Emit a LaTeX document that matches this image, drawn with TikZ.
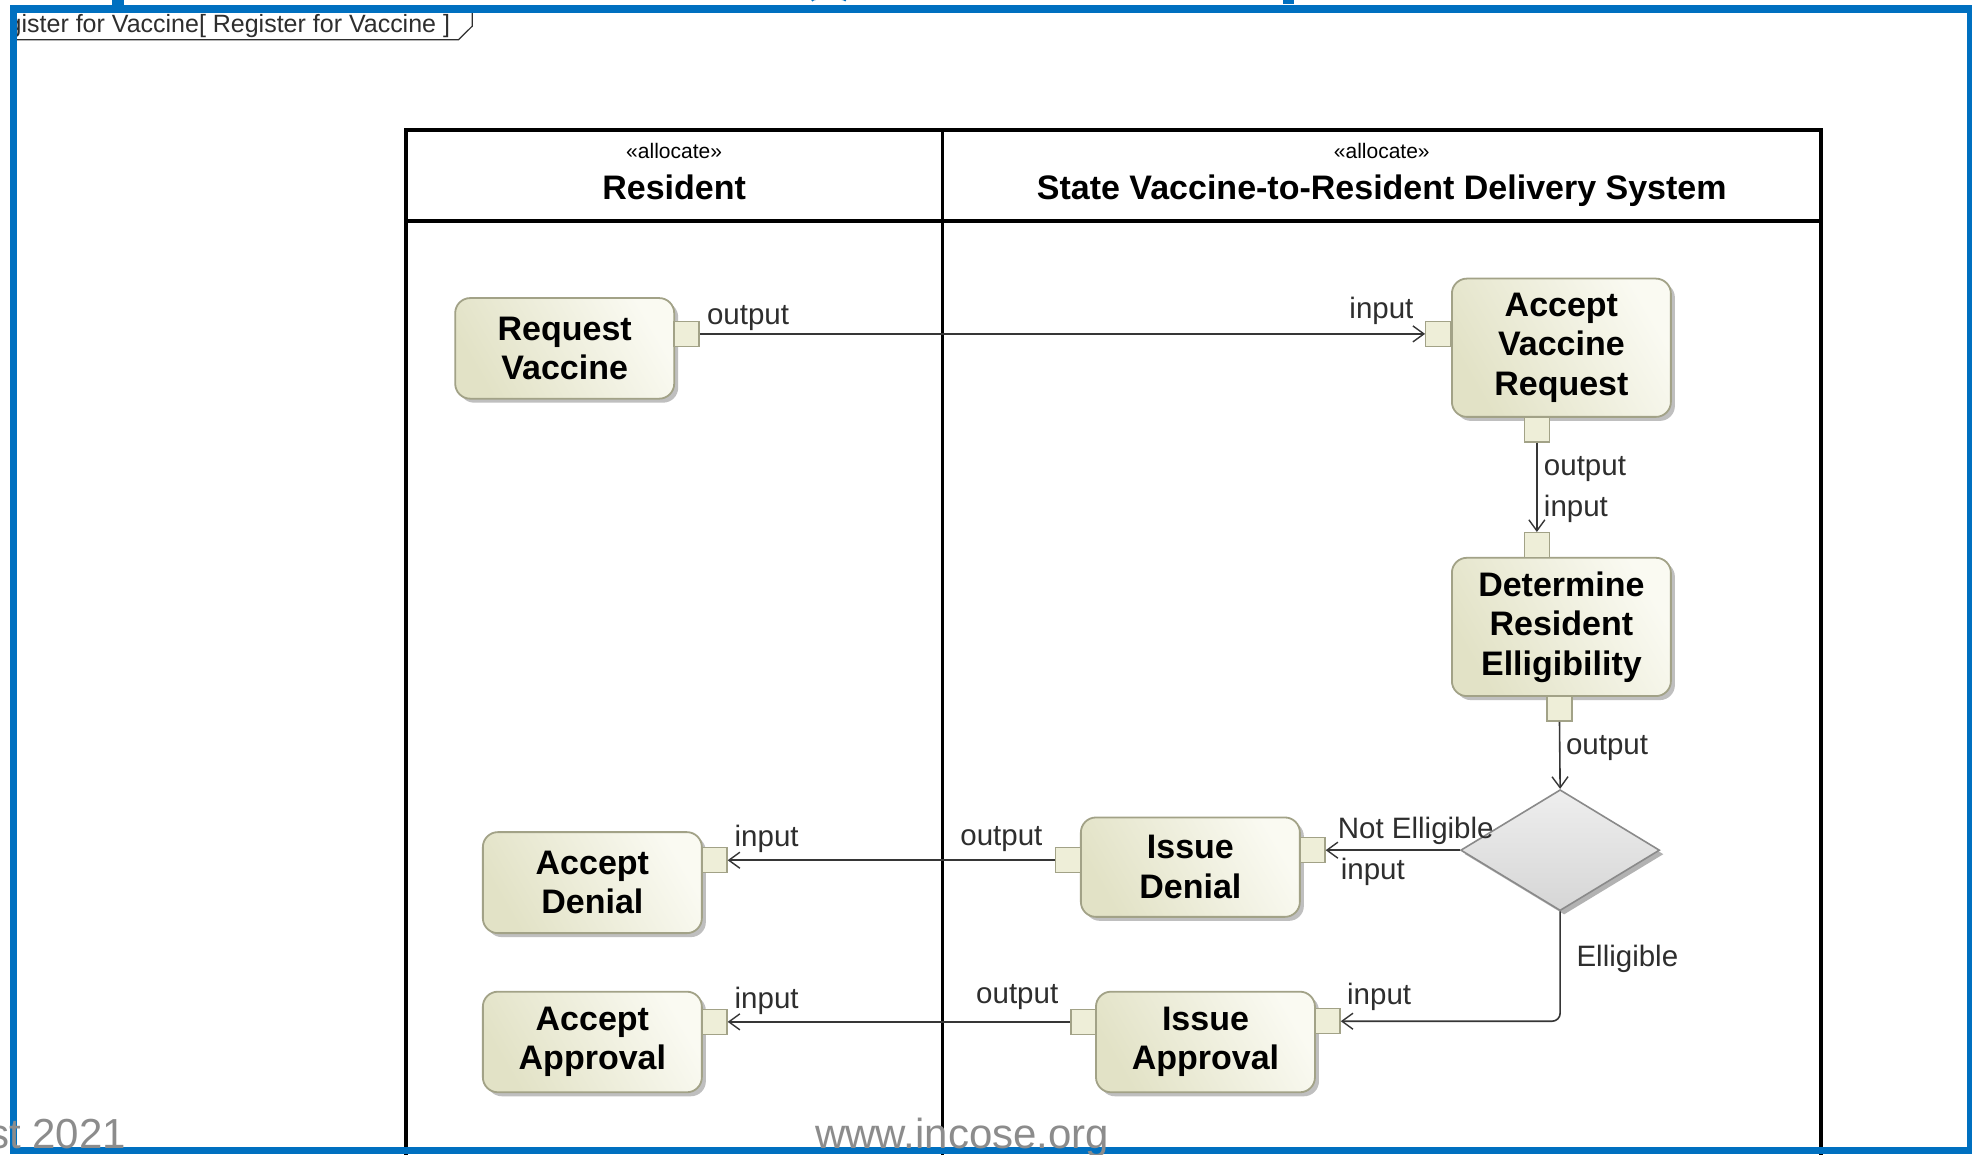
\documentclass[tikz,border=0pt]{standalone}
\usepackage{fontspec}
\setmainfont{Liberation Sans}
\usetikzlibrary{arrows.meta,shapes.geometric,shadows}

\definecolor{incoseblue}{HTML}{0070C0}
\definecolor{actline}{HTML}{A2A287}
\definecolor{actlight}{HTML}{FAFAF2}
\definecolor{actdark}{HTML}{E2E2C6}
\definecolor{pinfill}{HTML}{EEEED8}
\definecolor{flowline}{HTML}{363636}
\definecolor{decline}{HTML}{8A8A8A}
\definecolor{declight}{HTML}{EEEEEE}
\definecolor{decdark}{HTML}{D6D6D6}
\definecolor{footgray}{HTML}{8C8C8C}
\definecolor{lblgray}{HTML}{2E2E2E}

\tikzset{
  action/.style={draw=actline, line width=1.8pt, rounded corners=15pt,
    top color=actdark, bottom color=actlight, shading angle=120,
    drop shadow={shadow xshift=4pt, shadow yshift=-4pt, fill=black!45, opacity=.55},
    minimum width=219pt, align=center, inner sep=0pt, text=black,
    font=\fontsize{34}{39.5}\selectfont\bfseries},
  portbox/.style={draw=actline, line width=1.4pt, fill=pinfill,
    minimum size=25pt, inner sep=0pt},
  decision/.style={diamond, draw=decline, line width=1.6pt,
    top color=declight, bottom color=decdark,
    drop shadow={shadow xshift=4pt, shadow yshift=-4pt, fill=black!50, opacity=.6},
    minimum width=199pt, minimum height=121pt, inner sep=0pt},
  flow/.style={draw=flowline, line width=1.6pt,
    -{Straight Barb[length=11pt,width=16pt,line width=1.4pt]}},
  lbl/.style={inner sep=0pt, text=lblgray, font=\fontsize{29.5}{34}\selectfont},
  lane/.style={draw=black, line width=3.6pt},
  stereo/.style={inner sep=0pt, text=black, font=\fontsize{21}{24}\selectfont},
  lanetitle/.style={inner sep=0pt, text=black, font=\fontsize{34}{40}\selectfont\bfseries},
  foot/.style={inner sep=0pt, text=footgray, font=\fontsize{42}{48}\selectfont},
}

\begin{document}
\begin{tikzpicture}[x=1.2577pt, y=-1.2577pt]
\useasboundingbox (0,0) rectangle (1568,918);
\clip (0,0) rectangle (1568,918);
\fill[white] (0,0) rectangle (1568,918);

% swimlane partitions
\draw[lane] (322.6,930) -- (322.6,103.6) -- (1448,103.6) -- (1448,930);
\draw[lane] (322.6,175.5) -- (1448,175.5);
\draw[lane] (749.5,103.6) -- (749.5,930);

\node[stereo, anchor=base] (st1) at (536,125.9) {«allocate»};
\node[lanetitle, anchor=base] (lt1) at (536,159) {Resident};
\node[stereo, anchor=base] (st2) at (1098.7,125.9) {«allocate»};
\node[lanetitle, anchor=base] (lt2) at (1098.7,159) {State Vaccine-to-Resident Delivery System};

% actions
\node[action, minimum height=100.6pt] (rv) at (449,277) {Request\\Vaccine};
\node[action, minimum height=138.3pt] (avr) at (1241.5,276.5) {Accept\\Vaccine\\Request};
\node[action, minimum height=138.3pt] (dre) at (1241.5,498.5) {Determine\\Resident\\Elligibility};
\node[action, minimum height=101pt] (ad) at (471,701.8) {Accept\\Denial};
\node[action, minimum height=99.4pt] (idn) at (946.5,689.5) {Issue\\Denial};
\node[action, minimum height=100.6pt] (aa) at (471,828.5) {Accept\\Approval};
\node[action, minimum height=100.6pt] (ia) at (958.5,828.5) {Issue\\Approval};

% decision
\node[decision] (dec) at (1240.5,676) {};

% pins
\node[portbox] (rvout) at (546,265.5) {};
\node[portbox] (avrin) at (1143.6,265.5) {};
\node[portbox] (avrout) at (1222,341.5) {};
\node[portbox] (drein) at (1222,433.5) {};
\node[portbox] (dreout) at (1240,563.5) {};
\node[portbox] (idin) at (1043.6,676) {};
\node[portbox] (idout) at (849.4,684) {};
\node[portbox] (adin) at (568.1,684) {};
\node[portbox] (iain) at (1055.6,812) {};
\node[portbox] (iaout) at (861.4,812.5) {};
\node[portbox] (aain) at (568.1,812.5) {};

% object flows
\draw[flow] (rvout.east) -- (avrin.west);
\draw[flow] (avrout.south) -- (drein.north);
\draw[flow] (dreout.south) -- (dec.north);
\draw[flow] (dec.west) -- (idin.east);
\draw[flow, rounded corners=8pt] (dec.south) |- (iain.east);
\draw[flow] (idout.west) -- (adin.east);
\draw[flow] (iaout.west) -- (aain.east);

% pin and guard labels
\node[lbl, anchor=base west] (l1) at (562,257.7) {output};
\node[lbl, anchor=base east] (l2) at (1124,253) {input};
\node[lbl, anchor=base west] (l3) at (1227.5,377.7) {output};
\node[lbl, anchor=base west] (l4) at (1227.5,410.8) {input};
\node[lbl, anchor=base west] (l5) at (1245,600.3) {output};
\node[lbl, anchor=base west] (l6) at (1063.6,666.5) {Not Elligible};
\node[lbl, anchor=base west] (l7) at (1066,699.7) {input};
\node[lbl, anchor=base east] (l8) at (829,671.9) {output};
\node[lbl, anchor=base west] (l9) at (584,673.2) {input};
\node[lbl, anchor=base west] (l10) at (1253.4,768.6) {Elligible};
\node[lbl, anchor=base west] (l11) at (1071,799) {input};
\node[lbl, anchor=base east] (l12) at (841.6,798.3) {output};
\node[lbl, anchor=base west] (l13) at (584,801.7) {input};

% diagram frame tab
\draw[draw=lblgray, line width=1.2pt] (10,31.6) -- (364.5,31.6) -- (375.5,20.8) -- (375.5,8);
\begin{scope}
  \clip (13.5,0) rectangle (380,40);
  \node[inner sep=0pt, anchor=base east, text=lblgray, font=\fontsize{25}{28}\selectfont]
    (tab) at (358,26) {Register for Vaccine[ Register for Vaccine ]};
\end{scope}

% outer slide frame with the tail ends of the heading above it
\draw[incoseblue, line width=7.5pt] (10.73,6.96) rectangle (1566.7,914.8);
\fill[incoseblue] (89,0) rectangle (98.6,4);
\draw[incoseblue, line width=4pt] (645,0) arc[start angle=180, end angle=360, x radius=14, y radius=2.4];
\fill[incoseblue] (1020,0) rectangle (1029,3.5);

% footer
\node[foot, anchor=base east] (f1) at (100.2,913) {st 2021};
\node[foot, anchor=base west] (f2) at (648,913) {www.incose.org};
\end{tikzpicture}
\end{document}
